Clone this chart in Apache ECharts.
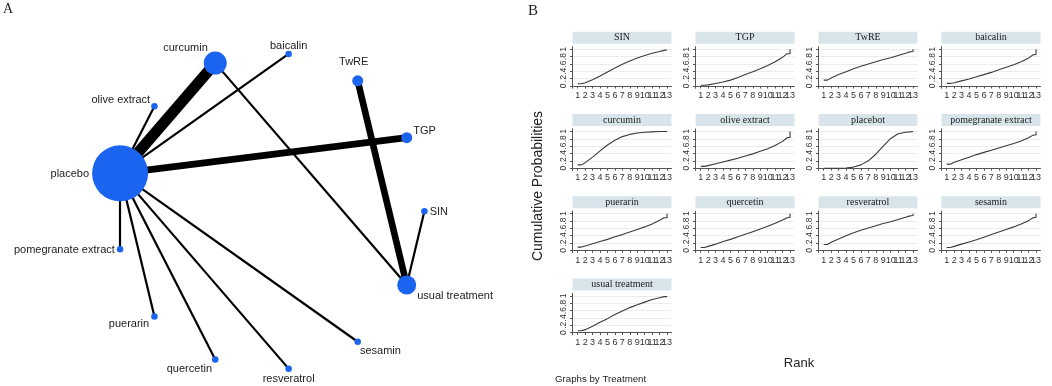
<!DOCTYPE html>
<html>
<head>
<meta charset="utf-8">
<script src="https://cdn.jsdelivr.net/npm/echarts@6/dist/echarts.min.js"></script>
<style>
  html, body { margin: 0; padding: 0; background: #fff; }
  #chart { width: 1052px; height: 386px; }
</style>
</head>
<body>
<div id="chart"></div>
<script>
// treatments in alphabetical order (networkplot puts them round the circle in this order)
const treatments = ['SIN', 'TGP', 'TwRE', 'baicalin', 'curcumin', 'olive extract', 'placebo',
  'pomegranate extract', 'puerarin', 'quercetin', 'resveratrol', 'sesamin', 'usual treatment'];
// panel titles of the ranking plot (spelling as in the original)
const panelTitles = ['SIN', 'TGP', 'TwRE', 'baicalin', 'curcumin', 'olive extract', 'placebot',
  'pomegranate extract', 'puerarin', 'quercetin', 'resveratrol', 'sesamin', 'usual treatment'];

// comparisons: [from, to, number of studies]
const edges = [
  ['placebo', 'curcumin', 5],
  ['placebo', 'baicalin', 1],
  ['placebo', 'olive extract', 1],
  ['placebo', 'TGP', 3],
  ['placebo', 'pomegranate extract', 1],
  ['placebo', 'puerarin', 1],
  ['placebo', 'quercetin', 1],
  ['placebo', 'resveratrol', 1],
  ['placebo', 'sesamin', 1],
  ['curcumin', 'usual treatment', 1],
  ['TwRE', 'usual treatment', 3],
  ['SIN', 'usual treatment', 1]
];

// ranks where the cumulative curves were read
const rankX = [1, 1.5, 2, 3, 4, 5, 6, 7, 8, 9, 10, 11, 12, 12.6, 13, 13];
const rankTicks = [1, 2, 3, 4, 5, 6, 7, 8, 9, 10, 11, 12, 13];
const probTicks = [0, 0.2, 0.4, 0.6, 0.8, 1];

const cumSIN      = [.06, .06, .09, .17, .27, .38, .49, .59, .68, .76, .83, .89, .94, .97, .98, .98];
const cumTGP      = [.02, .02, .03, .07, .11, .16, .23, .31, .39, .47, .56, .66, .78, .88, .88, 1];
const cumTwRE     = [.16, .16, .22, .31, .39, .47, .54, .60, .66, .72, .77, .83, .89, .93, .94, 1];
const cumBaicalin = [.07, .07, .09, .14, .19, .25, .31, .37, .44, .51, .58, .66, .76, .85, .86, 1];
const cumCurcumin = [.09, .09, .15, .30, .47, .63, .76, .86, .92, .96, .98, .99, 1, 1, 1, 1];
const cumOlive    = [.05, .05, .07, .12, .17, .22, .27, .33, .39, .46, .53, .62, .73, .83, .84, 1];
const cumPlacebo  = [0, 0, 0, 0, .005, .03, .09, .20, .38, .60, .81, .94, .98, .99, 1, 1];
const cumPomegr   = [.11, .11, .16, .23, .30, .37, .43, .49, .55, .61, .67, .74, .83, .90, .91, 1];
const cumPuerarin = [.09, .09, .12, .18, .24, .30, .37, .43, .50, .57, .64, .72, .82, .89, .89, 1];
const cumQuercet  = [.08, .08, .11, .17, .24, .30, .37, .44, .51, .58, .66, .74, .83, .89, .90, 1];
const cumResver   = [.16, .16, .22, .31, .40, .48, .55, .61, .67, .73, .78, .84, .90, .94, .95, 1];
const cumSesamin  = [.08, .08, .11, .17, .23, .29, .36, .43, .50, .57, .64, .72, .81, .89, .90, 1];
const cumUsual    = [.05, .05, .08, .17, .28, .38, .49, .59, .68, .76, .83, .90, .95, .98, .98, .98];

const cumProbs = [cumSIN, cumTGP, cumTwRE, cumBaicalin, cumCurcumin, cumOlive, cumPlacebo,
  cumPomegr, cumPuerarin, cumQuercet, cumResver, cumSesamin, cumUsual];

const SANS = 'Liberation Sans, Arial, Helvetica, sans-serif';
const SERIF = 'Liberation Serif, Times New Roman, serif';

let chart = echarts.init(document.getElementById('chart'), null, { renderer: 'canvas' });

// ---------- panel A : network ----------
const nodeSize = { placebo: 56, curcumin: 23, 'usual treatment': 19, TwRE: 11, TGP: 11 };
// [position, dx, dy]
const labelPlace = {
  'SIN': ['right', -3, 1],
  'TGP': ['right', -4, -7],
  'TwRE': ['top', -4, -3],
  'baicalin': ['top', 0, 6],
  'curcumin': ['left', 9, -15],
  'olive extract': ['left', 4, -6],
  'placebo': ['left', 2, 1],
  'pomegranate extract': ['left', 3, 1],
  'puerarin': ['left', 3, 8],
  'quercetin': ['left', 5, 9],
  'resveratrol': ['bottom', 0, -3],
  'sesamin': ['right', -6, 9],
  'usual treatment': ['right', -4, 11]
};

let step = Math.PI * 2 / treatments.length;
let nodes = treatments.map((name, i) => {
  let lp = labelPlace[name];
  return {
    name: name,
    value: [Math.cos(i * step), Math.sin(i * step)],
    symbolSize: nodeSize[name] || 6.5,
    label: { position: lp[0], offset: [lp[1], lp[2]] }
  };
});
let links = edges.map(e => ({
  source: e[0], target: e[1],
  lineStyle: { width: 2.2 * e[2] }
}));

let grids = [{ left: 115.6, top: 52.8, width: 308.8, height: 317 }];
let xAxes = [{ gridIndex: 0, type: 'value', min: -1, max: 1, show: false }];
let yAxes = [{ gridIndex: 0, type: 'value', min: -1, max: 1, show: false }];
let series = [{
  type: 'graph',
  coordinateSystem: 'cartesian2d',
  xAxisIndex: 0, yAxisIndex: 0,
  silent: true,
  data: nodes,
  links: links,
  itemStyle: { color: '#1a64f0' },
  lineStyle: { color: '#000', opacity: 1, curveness: 0 },
  label: { show: true, fontFamily: SANS, fontSize: 11, color: '#222' },
  z: 2
}];

// ---------- panel B : cumulative ranking curves ----------
const colLeft = [572.5, 695.5, 818.5, 941.5];
const panelW = 99;
const yMin = -0.063, yMax = 1.07;
// odd and even rank labels go on two stacked axes, otherwise echarts drops the crowded ones
const oddRanks = rankTicks.filter(r => r % 2 === 1);
const evenRanks = rankTicks.filter(r => r % 2 === 0);
const rankLabel = { fontFamily: SANS, fontSize: 9, color: '#333', margin: 3, showMinLabel: true, showMaxLabel: true };
let graphics = [];

cumProbs.forEach((vals, i) => {
  let col = i % 4, row = Math.floor(i / 4);
  let y1 = 49.3 + 82.2 * row;          // where prob = 1 sits
  let top = y1 - 2.6;
  let k = i + 1;
  grids.push({ left: colLeft[col], top: top, width: panelW, height: 41.6 });
  let xMain = xAxes.length;
  xAxes.push({
    gridIndex: k, type: 'value', min: 0.3, max: 13.6, position: 'bottom',
    axisLine: { show: true, lineStyle: { color: '#555', width: 1 } },
    axisTick: { show: true, length: 2.5, customValues: rankTicks, lineStyle: { color: '#555' } },
    axisLabel: Object.assign({ show: true, customValues: oddRanks }, rankLabel),
    splitLine: { show: false }
  });
  xAxes.push({
    gridIndex: k, type: 'value', min: 0.3, max: 13.6, position: 'bottom', offset: 0,
    axisLine: { show: false },
    axisTick: { show: false },
    axisLabel: Object.assign({ show: true, customValues: evenRanks }, rankLabel),
    splitLine: { show: false }
  });
  yAxes.push({
    gridIndex: k, type: 'value', min: yMin, max: yMax,
    axisLine: { show: true, lineStyle: { color: '#555', width: 1 } },
    axisTick: { show: true, length: 2.5, customValues: probTicks, lineStyle: { color: '#555' } },
    axisLabel: {
      show: true, customValues: probTicks, rotate: 90, fontFamily: SANS, fontSize: 8.5,
      color: '#333', margin: 4, showMinLabel: true, showMaxLabel: true,
      formatter: v => (v === 0 || v === 1) ? String(v) : String(v).replace('0.', '.')
    },
    splitLine: { show: true, lineStyle: { color: '#ececec', width: 1 } }
  });
  series.push({
    type: 'line',
    xAxisIndex: xMain, yAxisIndex: k,
    data: rankX.map((x, j) => [x, vals[j]]),
    showSymbol: false,
    symbol: 'none',
    lineStyle: { color: '#3a3a3a', width: 1.1 },
    silent: true
  });
  // panel header
  graphics.push({
    type: 'rect',
    shape: { x: colLeft[col], y: top - 14.9, width: panelW, height: 12 },
    style: { fill: '#d9e5eb' }
  });
  graphics.push({
    type: 'text',
    x: colLeft[col] + panelW / 2, y: top - 8.9,
    style: { text: panelTitles[i], font: '10px ' + SERIF, fill: '#1a1a1a', align: 'center', verticalAlign: 'middle' }
  });
});

graphics.push(
  { type: 'text', x: 3, y: 9, style: { text: 'A', font: '14px ' + SERIF, fill: '#222', align: 'left', verticalAlign: 'middle' } },
  { type: 'text', x: 528, y: 11, style: { text: 'B', font: '15px ' + SERIF, fill: '#222', align: 'left', verticalAlign: 'middle' } },
  { type: 'text', x: 538, y: 186, rotation: Math.PI / 2,
    style: { text: 'Cumulative Probabilities', font: '14px ' + SANS, fill: '#222', align: 'center', verticalAlign: 'middle' } },
  { type: 'text', x: 799, y: 363, style: { text: 'Rank', font: '13px ' + SANS, fill: '#222', align: 'center', verticalAlign: 'middle' } },
  { type: 'text', x: 555, y: 379, style: { text: 'Graphs by Treatment', font: '9.7px ' + SANS, fill: '#222', align: 'left', verticalAlign: 'middle' } }
);

chart.setOption({
  animation: false,
  backgroundColor: '#fff',
  grid: grids,
  xAxis: xAxes,
  yAxis: yAxes,
  series: series,
  graphic: graphics
});

window.addEventListener('resize', () => {
  chart.resize();
});
</script>
</body>
</html>
